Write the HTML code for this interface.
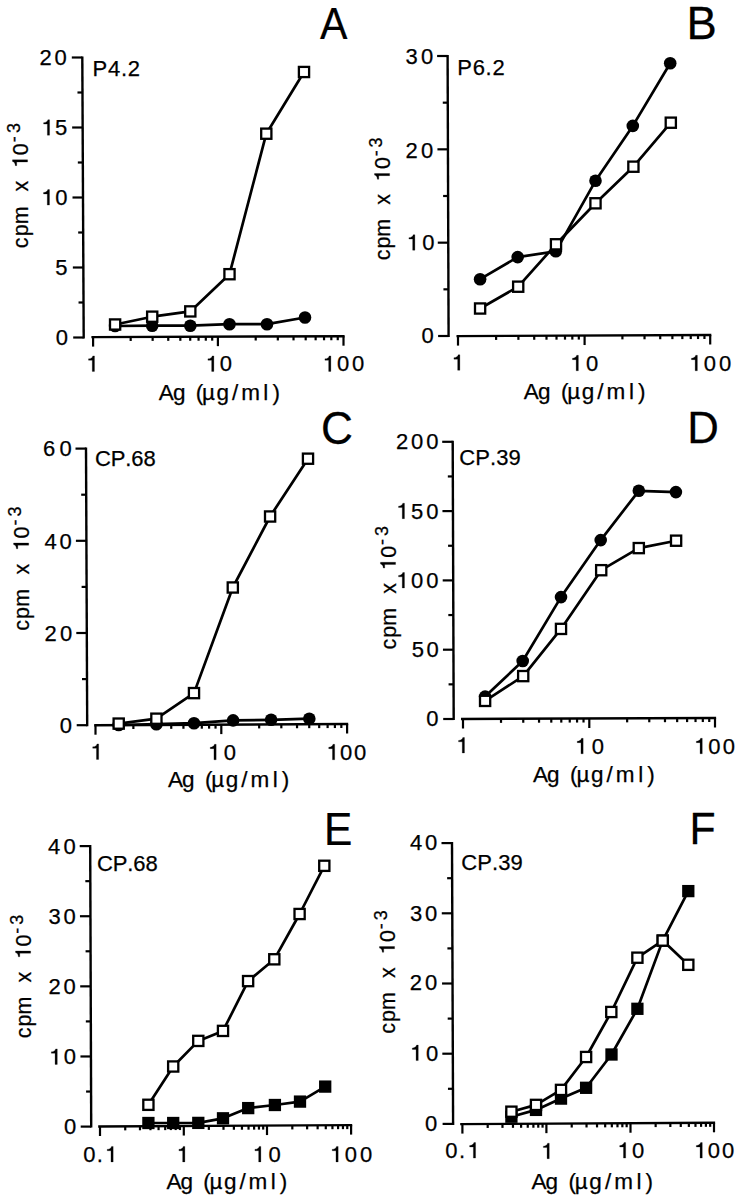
<!DOCTYPE html>
<html><head><meta charset="utf-8"><style>
html,body{margin:0;padding:0;background:#fff;}
svg{display:block;}
text{font-kerning:none;}
</style></head><body>
<svg width="742" height="1200" viewBox="0 0 742 1200" style="font-family:'Liberation Sans',sans-serif">
<rect width="742" height="1200" fill="#fff"/>
<g stroke="#000" fill="#000" font-family="Liberation Sans, sans-serif">
<g>
<line x1="82.30" y1="56.50" x2="83.70" y2="338.50" stroke-width="2.4" stroke-linecap="butt"/>
<line x1="73.20" y1="337.50" x2="83.70" y2="337.50" stroke-width="2.2" stroke-linecap="butt"/>
<line x1="72.85" y1="267.50" x2="83.35" y2="267.50" stroke-width="2.2" stroke-linecap="butt"/>
<line x1="72.50" y1="197.50" x2="83.00" y2="197.50" stroke-width="2.2" stroke-linecap="butt"/>
<line x1="72.15" y1="127.50" x2="82.65" y2="127.50" stroke-width="2.2" stroke-linecap="butt"/>
<line x1="71.80" y1="57.50" x2="82.30" y2="57.50" stroke-width="2.2" stroke-linecap="butt"/>
<line x1="78.53" y1="302.50" x2="83.53" y2="302.50" stroke-width="2.2" stroke-linecap="butt"/>
<line x1="78.17" y1="232.50" x2="83.17" y2="232.50" stroke-width="2.2" stroke-linecap="butt"/>
<line x1="77.83" y1="162.50" x2="82.83" y2="162.50" stroke-width="2.2" stroke-linecap="butt"/>
<line x1="77.47" y1="92.50" x2="82.47" y2="92.50" stroke-width="2.2" stroke-linecap="butt"/>
<line x1="91.40" y1="337.10" x2="344.60" y2="336.20" stroke-width="2.4" stroke-linecap="butt"/>
<line x1="93.10" y1="337.10" x2="93.10" y2="346.60" stroke-width="2.2" stroke-linecap="butt"/>
<line x1="130.67" y1="336.96" x2="130.67" y2="340.96" stroke-width="2.2" stroke-linecap="butt"/>
<line x1="152.64" y1="336.88" x2="152.64" y2="340.88" stroke-width="2.2" stroke-linecap="butt"/>
<line x1="168.24" y1="336.83" x2="168.24" y2="340.83" stroke-width="2.2" stroke-linecap="butt"/>
<line x1="180.33" y1="336.79" x2="180.33" y2="340.79" stroke-width="2.2" stroke-linecap="butt"/>
<line x1="190.21" y1="336.75" x2="190.21" y2="340.75" stroke-width="2.2" stroke-linecap="butt"/>
<line x1="198.57" y1="336.72" x2="198.57" y2="340.72" stroke-width="2.2" stroke-linecap="butt"/>
<line x1="205.81" y1="336.69" x2="205.81" y2="340.69" stroke-width="2.2" stroke-linecap="butt"/>
<line x1="212.19" y1="336.67" x2="212.19" y2="340.67" stroke-width="2.2" stroke-linecap="butt"/>
<line x1="217.90" y1="336.65" x2="217.90" y2="346.15" stroke-width="2.2" stroke-linecap="butt"/>
<line x1="255.71" y1="336.51" x2="255.71" y2="340.51" stroke-width="2.2" stroke-linecap="butt"/>
<line x1="277.83" y1="336.44" x2="277.83" y2="340.44" stroke-width="2.2" stroke-linecap="butt"/>
<line x1="293.52" y1="336.38" x2="293.52" y2="340.38" stroke-width="2.2" stroke-linecap="butt"/>
<line x1="305.69" y1="336.34" x2="305.69" y2="340.34" stroke-width="2.2" stroke-linecap="butt"/>
<line x1="315.64" y1="336.30" x2="315.64" y2="340.30" stroke-width="2.2" stroke-linecap="butt"/>
<line x1="324.04" y1="336.27" x2="324.04" y2="340.27" stroke-width="2.2" stroke-linecap="butt"/>
<line x1="331.33" y1="336.24" x2="331.33" y2="340.24" stroke-width="2.2" stroke-linecap="butt"/>
<line x1="337.75" y1="336.22" x2="337.75" y2="340.22" stroke-width="2.2" stroke-linecap="butt"/>
<line x1="343.50" y1="336.20" x2="343.50" y2="345.70" stroke-width="2.2" stroke-linecap="butt"/>
<path d="M115.10,326.00 L152.20,325.70 L190.30,325.70 L229.50,324.20 L267.00,324.20 L305.00,317.50" fill="none" stroke-width="2.7" stroke-linejoin="round"/>
<path d="M115.10,324.50 L152.20,316.70 L190.30,311.40 L229.50,274.20 L266.30,133.70 L304.00,72.00" fill="none" stroke-width="2.7" stroke-linejoin="round"/>
<circle cx="115.10" cy="326.00" r="6.3" fill="#000" stroke="none"/>
<circle cx="152.20" cy="325.70" r="6.3" fill="#000" stroke="none"/>
<circle cx="190.30" cy="325.70" r="6.3" fill="#000" stroke="none"/>
<circle cx="229.50" cy="324.20" r="6.3" fill="#000" stroke="none"/>
<circle cx="267.00" cy="324.20" r="6.3" fill="#000" stroke="none"/>
<circle cx="305.00" cy="317.50" r="6.3" fill="#000" stroke="none"/>
<rect x="110.00" y="319.40" width="10.2" height="10.2" fill="#fff" stroke-width="2.3"/>
<rect x="147.10" y="311.60" width="10.2" height="10.2" fill="#fff" stroke-width="2.3"/>
<rect x="185.20" y="306.30" width="10.2" height="10.2" fill="#fff" stroke-width="2.3"/>
<rect x="224.40" y="269.10" width="10.2" height="10.2" fill="#fff" stroke-width="2.3"/>
<rect x="261.20" y="128.60" width="10.2" height="10.2" fill="#fff" stroke-width="2.3"/>
<rect x="298.90" y="66.90" width="10.2" height="10.2" fill="#fff" stroke-width="2.3"/>
<text stroke="#000" stroke-width="0.25" stroke-linejoin="round" x="39.52 54.50" y="65.38 65.38" font-size="22.0">20</text>
<path d="M47.37,135.18 L49.56,135.18 L49.56,119.71 L47.91,119.71 C47.48,121.43 46.05,122.46 43.62,122.64 L43.62,124.07 L47.37,124.07Z" stroke-width="0.25" stroke-linejoin="round"/><text stroke="#000" stroke-width="0.25" stroke-linejoin="round" x="55.06" y="135.18" font-size="22.0">5</text>
<path d="M47.27,205.07 L49.47,205.07 L49.47,189.61 L47.81,189.61 C47.38,191.32 45.95,192.36 43.52,192.53 L43.52,193.96 L47.27,193.96Z" stroke-width="0.25" stroke-linejoin="round"/><text stroke="#000" stroke-width="0.25" stroke-linejoin="round" x="55.30" y="205.07" font-size="22.0">0</text>
<text stroke="#000" stroke-width="0.25" stroke-linejoin="round" x="55.24" y="275.18" font-size="22.0">5</text>
<text stroke="#000" stroke-width="0.25" stroke-linejoin="round" x="55.77" y="345.07" font-size="22.0">0</text>
<path d="M92.27,371.38 L94.47,371.38 L94.47,355.91 L92.82,355.91 C92.38,357.62 90.95,358.66 88.53,358.83 L88.53,360.26 L92.27,360.26Z" stroke-width="0.25" stroke-linejoin="round"/>
<path d="M211.66,371.38 L213.87,371.38 L213.87,355.91 L212.22,355.91 C211.78,357.62 210.34,358.66 207.93,358.83 L207.93,360.26 L211.66,360.26Z" stroke-width="0.25" stroke-linejoin="round"/><text stroke="#000" stroke-width="0.25" stroke-linejoin="round" x="219.70" y="371.38" font-size="22.0">0</text>
<path d="M328.67,371.38 L330.87,371.38 L330.87,355.91 L329.21,355.91 C328.77,357.62 327.34,358.66 324.93,358.83 L324.93,360.26 L328.67,360.26Z" stroke-width="0.25" stroke-linejoin="round"/><text stroke="#000" stroke-width="0.25" stroke-linejoin="round" x="337.03 352.00" y="371.38 371.38" font-size="22.0">00</text>
<text stroke="#000" stroke-width="0.25" stroke-linejoin="round" x="92.62 108.03 121.00 127.85" y="75.67 75.67 75.67 75.67" font-size="22.0">P4.2</text>
<text stroke="#000" stroke-width="0.25" stroke-linejoin="round" transform="translate(320.07,39.35) scale(0.9227,1)" x="0" y="0" font-size="44.62">A</text>
<text stroke="#000" stroke-width="0.25" stroke-linejoin="round" x="158.78 172.88 195.73 201.99 216.38 231.93 241.13 263.31 272.39" y="399.68 399.68 399.68 399.68 399.68 399.68 399.68 399.68 399.68" font-size="22.5">Ag(µg/ml)</text>
<g transform="translate(27.70,248.00) rotate(-90)"><text stroke="#000" stroke-width="0.25" stroke-linejoin="round" x="-0.29 11.73 23.88 56.44" y="-0.12 -0.12 -0.12 -0.12" font-size="21.5">cpmx</text><path d="M86.01,-0.12 L88.16,-0.12 L88.16,-15.24 L86.55,-15.24 C86.12,-13.56 84.72,-12.55 82.36,-12.38 L82.36,-10.98 L86.01,-10.98Z" stroke-width="0.25" stroke-linejoin="round"/><text stroke="#000" stroke-width="0.25" stroke-linejoin="round" x="92.81" y="-0.12" font-size="21.5">0</text><text stroke="#000" stroke-width="0.25" stroke-linejoin="round" x="105.84 114.95" y="-7.62 -7.62" font-size="18.0">-3</text></g>
<line x1="447.60" y1="55.00" x2="448.60" y2="337.00" stroke-width="2.4" stroke-linecap="butt"/>
<line x1="438.10" y1="336.00" x2="448.60" y2="336.00" stroke-width="2.2" stroke-linecap="butt"/>
<line x1="437.77" y1="242.67" x2="448.27" y2="242.67" stroke-width="2.2" stroke-linecap="butt"/>
<line x1="437.43" y1="149.33" x2="447.93" y2="149.33" stroke-width="2.2" stroke-linecap="butt"/>
<line x1="437.10" y1="56.00" x2="447.60" y2="56.00" stroke-width="2.2" stroke-linecap="butt"/>
<line x1="443.43" y1="289.33" x2="448.43" y2="289.33" stroke-width="2.2" stroke-linecap="butt"/>
<line x1="443.10" y1="196.00" x2="448.10" y2="196.00" stroke-width="2.2" stroke-linecap="butt"/>
<line x1="442.77" y1="102.67" x2="447.77" y2="102.67" stroke-width="2.2" stroke-linecap="butt"/>
<line x1="456.50" y1="336.10" x2="711.30" y2="335.00" stroke-width="2.4" stroke-linecap="butt"/>
<line x1="458.00" y1="336.10" x2="458.00" y2="345.60" stroke-width="2.2" stroke-linecap="butt"/>
<line x1="496.11" y1="335.93" x2="496.11" y2="339.93" stroke-width="2.2" stroke-linecap="butt"/>
<line x1="518.40" y1="335.84" x2="518.40" y2="339.84" stroke-width="2.2" stroke-linecap="butt"/>
<line x1="534.22" y1="335.77" x2="534.22" y2="339.77" stroke-width="2.2" stroke-linecap="butt"/>
<line x1="546.49" y1="335.71" x2="546.49" y2="339.71" stroke-width="2.2" stroke-linecap="butt"/>
<line x1="556.51" y1="335.67" x2="556.51" y2="339.67" stroke-width="2.2" stroke-linecap="butt"/>
<line x1="564.99" y1="335.63" x2="564.99" y2="339.63" stroke-width="2.2" stroke-linecap="butt"/>
<line x1="572.33" y1="335.60" x2="572.33" y2="339.60" stroke-width="2.2" stroke-linecap="butt"/>
<line x1="578.81" y1="335.57" x2="578.81" y2="339.57" stroke-width="2.2" stroke-linecap="butt"/>
<line x1="584.60" y1="335.55" x2="584.60" y2="345.05" stroke-width="2.2" stroke-linecap="butt"/>
<line x1="622.41" y1="335.38" x2="622.41" y2="339.38" stroke-width="2.2" stroke-linecap="butt"/>
<line x1="644.53" y1="335.29" x2="644.53" y2="339.29" stroke-width="2.2" stroke-linecap="butt"/>
<line x1="660.22" y1="335.22" x2="660.22" y2="339.22" stroke-width="2.2" stroke-linecap="butt"/>
<line x1="672.39" y1="335.16" x2="672.39" y2="339.16" stroke-width="2.2" stroke-linecap="butt"/>
<line x1="682.34" y1="335.12" x2="682.34" y2="339.12" stroke-width="2.2" stroke-linecap="butt"/>
<line x1="690.74" y1="335.08" x2="690.74" y2="339.08" stroke-width="2.2" stroke-linecap="butt"/>
<line x1="698.03" y1="335.05" x2="698.03" y2="339.05" stroke-width="2.2" stroke-linecap="butt"/>
<line x1="704.45" y1="335.03" x2="704.45" y2="339.03" stroke-width="2.2" stroke-linecap="butt"/>
<line x1="710.20" y1="335.00" x2="710.20" y2="344.50" stroke-width="2.2" stroke-linecap="butt"/>
<path d="M480.10,279.20 L517.70,257.10 L555.80,251.30 L595.50,180.80 L632.80,125.90 L670.20,63.20" fill="none" stroke-width="2.7" stroke-linejoin="round"/>
<path d="M480.10,308.50 L518.20,286.70 L556.00,244.30 L595.50,203.30 L633.40,166.70 L670.80,122.70" fill="none" stroke-width="2.7" stroke-linejoin="round"/>
<circle cx="480.10" cy="279.20" r="6.3" fill="#000" stroke="none"/>
<circle cx="517.70" cy="257.10" r="6.3" fill="#000" stroke="none"/>
<circle cx="555.80" cy="251.30" r="6.3" fill="#000" stroke="none"/>
<circle cx="595.50" cy="180.80" r="6.3" fill="#000" stroke="none"/>
<circle cx="632.80" cy="125.90" r="6.3" fill="#000" stroke="none"/>
<circle cx="670.20" cy="63.20" r="6.3" fill="#000" stroke="none"/>
<rect x="475.00" y="303.40" width="10.2" height="10.2" fill="#fff" stroke-width="2.3"/>
<rect x="513.10" y="281.60" width="10.2" height="10.2" fill="#fff" stroke-width="2.3"/>
<rect x="550.90" y="239.20" width="10.2" height="10.2" fill="#fff" stroke-width="2.3"/>
<rect x="590.40" y="198.20" width="10.2" height="10.2" fill="#fff" stroke-width="2.3"/>
<rect x="628.30" y="161.60" width="10.2" height="10.2" fill="#fff" stroke-width="2.3"/>
<rect x="665.70" y="117.60" width="10.2" height="10.2" fill="#fff" stroke-width="2.3"/>
<text stroke="#000" stroke-width="0.25" stroke-linejoin="round" x="405.49 420.90" y="63.88 63.88" font-size="22.0">30</text>
<text stroke="#000" stroke-width="0.25" stroke-linejoin="round" x="405.52 420.90" y="157.68 157.68" font-size="22.0">20</text>
<path d="M412.67,250.18 L414.87,250.18 L414.87,234.71 L413.21,234.71 C412.77,236.43 411.34,237.46 408.93,237.64 L408.93,239.06 L412.67,239.06Z" stroke-width="0.25" stroke-linejoin="round"/><text stroke="#000" stroke-width="0.25" stroke-linejoin="round" x="422.20" y="250.18" font-size="22.0">0</text>
<text stroke="#000" stroke-width="0.25" stroke-linejoin="round" x="421.47" y="343.07" font-size="22.0">0</text>
<path d="M457.67,370.27 L459.87,370.27 L459.87,354.81 L458.21,354.81 C457.77,356.52 456.34,357.56 453.93,357.73 L453.93,359.16 L457.67,359.16Z" stroke-width="0.25" stroke-linejoin="round"/>
<path d="M576.16,370.77 L578.36,370.77 L578.36,355.31 L576.71,355.31 C576.27,357.02 574.84,358.06 572.42,358.23 L572.42,359.66 L576.16,359.66Z" stroke-width="0.25" stroke-linejoin="round"/><text stroke="#000" stroke-width="0.25" stroke-linejoin="round" x="585.90" y="370.77" font-size="22.0">0</text>
<path d="M695.16,370.77 L697.36,370.77 L697.36,355.31 L695.71,355.31 C695.27,357.02 693.84,358.06 691.42,358.23 L691.42,359.66 L695.16,359.66Z" stroke-width="0.25" stroke-linejoin="round"/><text stroke="#000" stroke-width="0.25" stroke-linejoin="round" x="703.73 718.90" y="370.77 370.77" font-size="22.0">00</text>
<text stroke="#000" stroke-width="0.25" stroke-linejoin="round" x="457.22 472.63 485.60 492.45" y="74.67 74.67 74.67 74.67" font-size="22.0">P6.2</text>
<text stroke="#000" stroke-width="0.25" stroke-linejoin="round" transform="translate(686.52,38.75) scale(0.9868,1)" x="0" y="0" font-size="46.08">B</text>
<text stroke="#000" stroke-width="0.25" stroke-linejoin="round" x="523.68 537.88 560.89 567.19 581.68 597.32 606.60 628.93 638.07" y="399.07 399.07 399.07 399.07 399.07 399.07 399.07 399.07 399.07" font-size="22.5">Ag(µg/ml)</text>
<g transform="translate(389.75,260.00) rotate(-90)"><text stroke="#000" stroke-width="0.25" stroke-linejoin="round" x="-0.29 11.48 23.38 55.30" y="-0.12 -0.12 -0.12 -0.12" font-size="21.5">cpmx</text><path d="M84.35,-0.12 L86.50,-0.12 L86.50,-15.24 L84.89,-15.24 C84.46,-13.56 83.06,-12.55 80.70,-12.38 L80.70,-10.98 L84.35,-10.98Z" stroke-width="0.25" stroke-linejoin="round"/><text stroke="#000" stroke-width="0.25" stroke-linejoin="round" x="90.92" y="-0.12" font-size="21.5">0</text><text stroke="#000" stroke-width="0.25" stroke-linejoin="round" x="103.68 112.61" y="-7.62 -7.62" font-size="18.0">-3</text></g>
<line x1="86.00" y1="447.60" x2="87.20" y2="726.20" stroke-width="2.4" stroke-linecap="butt"/>
<line x1="76.70" y1="725.20" x2="87.20" y2="725.20" stroke-width="2.2" stroke-linecap="butt"/>
<line x1="76.30" y1="633.00" x2="86.80" y2="633.00" stroke-width="2.2" stroke-linecap="butt"/>
<line x1="75.90" y1="540.80" x2="86.40" y2="540.80" stroke-width="2.2" stroke-linecap="butt"/>
<line x1="75.50" y1="448.60" x2="86.00" y2="448.60" stroke-width="2.2" stroke-linecap="butt"/>
<line x1="82.00" y1="679.10" x2="87.00" y2="679.10" stroke-width="2.2" stroke-linecap="butt"/>
<line x1="81.60" y1="586.90" x2="86.60" y2="586.90" stroke-width="2.2" stroke-linecap="butt"/>
<line x1="81.20" y1="494.70" x2="86.20" y2="494.70" stroke-width="2.2" stroke-linecap="butt"/>
<line x1="94.20" y1="725.20" x2="348.20" y2="724.00" stroke-width="2.4" stroke-linecap="butt"/>
<line x1="95.50" y1="725.20" x2="95.50" y2="734.70" stroke-width="2.2" stroke-linecap="butt"/>
<line x1="133.37" y1="725.02" x2="133.37" y2="729.02" stroke-width="2.2" stroke-linecap="butt"/>
<line x1="155.52" y1="724.91" x2="155.52" y2="728.91" stroke-width="2.2" stroke-linecap="butt"/>
<line x1="171.24" y1="724.84" x2="171.24" y2="728.84" stroke-width="2.2" stroke-linecap="butt"/>
<line x1="183.43" y1="724.78" x2="183.43" y2="728.78" stroke-width="2.2" stroke-linecap="butt"/>
<line x1="193.39" y1="724.73" x2="193.39" y2="728.73" stroke-width="2.2" stroke-linecap="butt"/>
<line x1="201.81" y1="724.69" x2="201.81" y2="728.69" stroke-width="2.2" stroke-linecap="butt"/>
<line x1="209.11" y1="724.66" x2="209.11" y2="728.66" stroke-width="2.2" stroke-linecap="butt"/>
<line x1="215.54" y1="724.63" x2="215.54" y2="728.63" stroke-width="2.2" stroke-linecap="butt"/>
<line x1="221.30" y1="724.60" x2="221.30" y2="734.10" stroke-width="2.2" stroke-linecap="butt"/>
<line x1="259.17" y1="724.42" x2="259.17" y2="728.42" stroke-width="2.2" stroke-linecap="butt"/>
<line x1="281.32" y1="724.31" x2="281.32" y2="728.31" stroke-width="2.2" stroke-linecap="butt"/>
<line x1="297.04" y1="724.24" x2="297.04" y2="728.24" stroke-width="2.2" stroke-linecap="butt"/>
<line x1="309.23" y1="724.18" x2="309.23" y2="728.18" stroke-width="2.2" stroke-linecap="butt"/>
<line x1="319.19" y1="724.13" x2="319.19" y2="728.13" stroke-width="2.2" stroke-linecap="butt"/>
<line x1="327.61" y1="724.09" x2="327.61" y2="728.09" stroke-width="2.2" stroke-linecap="butt"/>
<line x1="334.91" y1="724.06" x2="334.91" y2="728.06" stroke-width="2.2" stroke-linecap="butt"/>
<line x1="341.34" y1="724.03" x2="341.34" y2="728.03" stroke-width="2.2" stroke-linecap="butt"/>
<line x1="347.10" y1="724.00" x2="347.10" y2="733.50" stroke-width="2.2" stroke-linecap="butt"/>
<path d="M118.70,725.00 L156.40,724.20 L194.00,723.20 L233.10,720.40 L271.10,719.80 L309.30,718.70" fill="none" stroke-width="2.7" stroke-linejoin="round"/>
<path d="M118.70,723.60 L156.40,718.70 L194.00,693.10 L232.80,587.50 L270.10,516.50 L308.00,458.70" fill="none" stroke-width="2.7" stroke-linejoin="round"/>
<circle cx="118.70" cy="725.00" r="6.3" fill="#000" stroke="none"/>
<circle cx="156.40" cy="724.20" r="6.3" fill="#000" stroke="none"/>
<circle cx="194.00" cy="723.20" r="6.3" fill="#000" stroke="none"/>
<circle cx="233.10" cy="720.40" r="6.3" fill="#000" stroke="none"/>
<circle cx="271.10" cy="719.80" r="6.3" fill="#000" stroke="none"/>
<circle cx="309.30" cy="718.70" r="6.3" fill="#000" stroke="none"/>
<rect x="113.60" y="718.50" width="10.2" height="10.2" fill="#fff" stroke-width="2.3"/>
<rect x="151.30" y="713.60" width="10.2" height="10.2" fill="#fff" stroke-width="2.3"/>
<rect x="188.90" y="688.00" width="10.2" height="10.2" fill="#fff" stroke-width="2.3"/>
<rect x="227.70" y="582.40" width="10.2" height="10.2" fill="#fff" stroke-width="2.3"/>
<rect x="265.00" y="511.40" width="10.2" height="10.2" fill="#fff" stroke-width="2.3"/>
<rect x="302.90" y="453.60" width="10.2" height="10.2" fill="#fff" stroke-width="2.3"/>
<text stroke="#000" stroke-width="0.25" stroke-linejoin="round" x="43.11 59.40" y="456.48 456.48" font-size="22.0">60</text>
<text stroke="#000" stroke-width="0.25" stroke-linejoin="round" x="44.42 59.40" y="548.67 548.67" font-size="22.0">40</text>
<text stroke="#000" stroke-width="0.25" stroke-linejoin="round" x="44.52 60.10" y="641.48 641.48" font-size="22.0">20</text>
<text stroke="#000" stroke-width="0.25" stroke-linejoin="round" x="59.77" y="732.98" font-size="22.0">0</text>
<path d="M96.46,759.38 L98.66,759.38 L98.66,743.91 L97.02,743.91 C96.57,745.62 95.14,746.66 92.72,746.84 L92.72,748.26 L96.46,748.26Z" stroke-width="0.25" stroke-linejoin="round"/>
<path d="M213.96,759.77 L216.16,759.77 L216.16,744.31 L214.51,744.31 C214.07,746.02 212.64,747.06 210.22,747.24 L210.22,748.66 L213.96,748.66Z" stroke-width="0.25" stroke-linejoin="round"/><text stroke="#000" stroke-width="0.25" stroke-linejoin="round" x="223.80" y="759.77" font-size="22.0">0</text>
<path d="M332.47,759.77 L334.67,759.77 L334.67,744.31 L333.01,744.31 C332.57,746.02 331.14,747.06 328.73,747.24 L328.73,748.66 L332.47,748.66Z" stroke-width="0.25" stroke-linejoin="round"/><text stroke="#000" stroke-width="0.25" stroke-linejoin="round" x="339.93 354.00" y="759.77 759.77" font-size="22.0">00</text>
<text stroke="#000" stroke-width="0.25" stroke-linejoin="round" x="94.91 110.72 125.31 131.34 143.50" y="466.07 466.07 466.07 466.07 466.07" font-size="22.0">CP.68</text>
<text stroke="#000" stroke-width="0.25" stroke-linejoin="round" transform="translate(321.00,444.39) scale(0.9661,1)" x="0" y="0" font-size="45.76">C</text>
<text stroke="#000" stroke-width="0.25" stroke-linejoin="round" x="167.98 182.11 204.99 211.26 225.68 241.25 250.47 272.69 281.79" y="786.58 786.58 786.58 786.58 786.58 786.58 786.58 786.58 786.58" font-size="22.5">Ag(µg/ml)</text>
<g transform="translate(28.80,630.50) rotate(-90)"><text stroke="#000" stroke-width="0.25" stroke-linejoin="round" x="-0.29 11.63 23.68 55.98" y="-0.12 -0.12 -0.12 -0.12" font-size="21.5">cpmx</text><path d="M85.35,-0.12 L87.50,-0.12 L87.50,-15.24 L85.89,-15.24 C85.46,-13.56 84.06,-12.55 81.69,-12.38 L81.69,-10.98 L85.35,-10.98Z" stroke-width="0.25" stroke-linejoin="round"/><text stroke="#000" stroke-width="0.25" stroke-linejoin="round" x="92.05" y="-0.12" font-size="21.5">0</text><text stroke="#000" stroke-width="0.25" stroke-linejoin="round" x="104.98 114.01" y="-7.62 -7.62" font-size="18.0">-3</text></g>
<line x1="452.70" y1="440.80" x2="453.70" y2="720.00" stroke-width="2.4" stroke-linecap="butt"/>
<line x1="443.20" y1="719.00" x2="453.70" y2="719.00" stroke-width="2.2" stroke-linecap="butt"/>
<line x1="442.95" y1="649.70" x2="453.45" y2="649.70" stroke-width="2.2" stroke-linecap="butt"/>
<line x1="442.70" y1="580.40" x2="453.20" y2="580.40" stroke-width="2.2" stroke-linecap="butt"/>
<line x1="442.45" y1="511.10" x2="452.95" y2="511.10" stroke-width="2.2" stroke-linecap="butt"/>
<line x1="442.20" y1="441.80" x2="452.70" y2="441.80" stroke-width="2.2" stroke-linecap="butt"/>
<line x1="448.57" y1="684.35" x2="453.57" y2="684.35" stroke-width="2.2" stroke-linecap="butt"/>
<line x1="448.32" y1="615.05" x2="453.32" y2="615.05" stroke-width="2.2" stroke-linecap="butt"/>
<line x1="448.07" y1="545.75" x2="453.07" y2="545.75" stroke-width="2.2" stroke-linecap="butt"/>
<line x1="447.82" y1="476.45" x2="452.82" y2="476.45" stroke-width="2.2" stroke-linecap="butt"/>
<line x1="461.00" y1="719.00" x2="716.10" y2="718.00" stroke-width="2.4" stroke-linecap="butt"/>
<line x1="463.00" y1="719.00" x2="463.00" y2="728.50" stroke-width="2.2" stroke-linecap="butt"/>
<line x1="501.02" y1="718.85" x2="501.02" y2="722.85" stroke-width="2.2" stroke-linecap="butt"/>
<line x1="523.26" y1="718.76" x2="523.26" y2="722.76" stroke-width="2.2" stroke-linecap="butt"/>
<line x1="539.04" y1="718.70" x2="539.04" y2="722.70" stroke-width="2.2" stroke-linecap="butt"/>
<line x1="551.28" y1="718.65" x2="551.28" y2="722.65" stroke-width="2.2" stroke-linecap="butt"/>
<line x1="561.28" y1="718.61" x2="561.28" y2="722.61" stroke-width="2.2" stroke-linecap="butt"/>
<line x1="569.74" y1="718.57" x2="569.74" y2="722.57" stroke-width="2.2" stroke-linecap="butt"/>
<line x1="577.06" y1="718.55" x2="577.06" y2="722.55" stroke-width="2.2" stroke-linecap="butt"/>
<line x1="583.52" y1="718.52" x2="583.52" y2="722.52" stroke-width="2.2" stroke-linecap="butt"/>
<line x1="589.30" y1="718.50" x2="589.30" y2="728.00" stroke-width="2.2" stroke-linecap="butt"/>
<line x1="627.14" y1="718.35" x2="627.14" y2="722.35" stroke-width="2.2" stroke-linecap="butt"/>
<line x1="649.27" y1="718.26" x2="649.27" y2="722.26" stroke-width="2.2" stroke-linecap="butt"/>
<line x1="664.98" y1="718.20" x2="664.98" y2="722.20" stroke-width="2.2" stroke-linecap="butt"/>
<line x1="677.16" y1="718.15" x2="677.16" y2="722.15" stroke-width="2.2" stroke-linecap="butt"/>
<line x1="687.11" y1="718.11" x2="687.11" y2="722.11" stroke-width="2.2" stroke-linecap="butt"/>
<line x1="695.53" y1="718.08" x2="695.53" y2="722.08" stroke-width="2.2" stroke-linecap="butt"/>
<line x1="702.82" y1="718.05" x2="702.82" y2="722.05" stroke-width="2.2" stroke-linecap="butt"/>
<line x1="709.25" y1="718.02" x2="709.25" y2="722.02" stroke-width="2.2" stroke-linecap="butt"/>
<line x1="715.00" y1="718.00" x2="715.00" y2="727.50" stroke-width="2.2" stroke-linecap="butt"/>
<path d="M485.10,696.60 L522.70,661.00 L561.00,597.10 L600.70,540.10 L638.80,490.80 L675.90,492.10" fill="none" stroke-width="2.7" stroke-linejoin="round"/>
<path d="M485.10,700.90 L523.20,676.10 L561.00,628.90 L601.20,570.20 L638.80,548.10 L676.10,540.70" fill="none" stroke-width="2.7" stroke-linejoin="round"/>
<circle cx="485.10" cy="696.60" r="6.3" fill="#000" stroke="none"/>
<circle cx="522.70" cy="661.00" r="6.3" fill="#000" stroke="none"/>
<circle cx="561.00" cy="597.10" r="6.3" fill="#000" stroke="none"/>
<circle cx="600.70" cy="540.10" r="6.3" fill="#000" stroke="none"/>
<circle cx="638.80" cy="490.80" r="6.3" fill="#000" stroke="none"/>
<circle cx="675.90" cy="492.10" r="6.3" fill="#000" stroke="none"/>
<rect x="480.00" y="695.80" width="10.2" height="10.2" fill="#fff" stroke-width="2.3"/>
<rect x="518.10" y="671.00" width="10.2" height="10.2" fill="#fff" stroke-width="2.3"/>
<rect x="555.90" y="623.80" width="10.2" height="10.2" fill="#fff" stroke-width="2.3"/>
<rect x="596.10" y="565.10" width="10.2" height="10.2" fill="#fff" stroke-width="2.3"/>
<rect x="633.70" y="543.00" width="10.2" height="10.2" fill="#fff" stroke-width="2.3"/>
<rect x="671.00" y="535.60" width="10.2" height="10.2" fill="#fff" stroke-width="2.3"/>
<text stroke="#000" stroke-width="0.25" stroke-linejoin="round" x="395.92 411.11 426.30" y="449.38 449.38 449.38" font-size="22.0">200</text>
<path d="M402.26,518.67 L404.46,518.67 L404.46,503.21 L402.81,503.21 C402.37,504.92 400.94,505.96 398.52,506.13 L398.52,507.56 L402.26,507.56Z" stroke-width="0.25" stroke-linejoin="round"/><text stroke="#000" stroke-width="0.25" stroke-linejoin="round" x="410.98 426.30" y="518.67 518.67" font-size="22.0">50</text>
<path d="M402.26,587.98 L404.46,587.98 L404.46,572.51 L402.81,572.51 C402.37,574.23 400.94,575.26 398.52,575.44 L398.52,576.87 L402.26,576.87Z" stroke-width="0.25" stroke-linejoin="round"/><text stroke="#000" stroke-width="0.25" stroke-linejoin="round" x="410.98 426.30" y="587.98 587.98" font-size="22.0">00</text>
<text stroke="#000" stroke-width="0.25" stroke-linejoin="round" x="411.84 426.60" y="657.27 657.27" font-size="22.0">50</text>
<text stroke="#000" stroke-width="0.25" stroke-linejoin="round" x="426.17" y="726.48" font-size="22.0">0</text>
<path d="M462.26,752.98 L464.46,752.98 L464.46,737.51 L462.81,737.51 C462.37,739.23 460.94,740.26 458.52,740.44 L458.52,741.87 L462.26,741.87Z" stroke-width="0.25" stroke-linejoin="round"/>
<path d="M580.97,753.77 L583.16,753.77 L583.16,738.31 L581.51,738.31 C581.08,740.02 579.64,741.06 577.23,741.24 L577.23,742.66 L580.97,742.66Z" stroke-width="0.25" stroke-linejoin="round"/><text stroke="#000" stroke-width="0.25" stroke-linejoin="round" x="591.70" y="753.77" font-size="22.0">0</text>
<path d="M700.07,753.77 L702.26,753.77 L702.26,738.31 L700.62,738.31 C700.18,740.02 698.75,741.06 696.33,741.24 L696.33,742.66 L700.07,742.66Z" stroke-width="0.25" stroke-linejoin="round"/><text stroke="#000" stroke-width="0.25" stroke-linejoin="round" x="708.13 722.80" y="753.77 753.77" font-size="22.0">00</text>
<text stroke="#000" stroke-width="0.25" stroke-linejoin="round" x="459.21 475.21 490.00 496.23 508.58" y="464.68 464.68 464.68 464.68 464.68" font-size="22.0">CP.39</text>
<text stroke="#000" stroke-width="0.25" stroke-linejoin="round" transform="translate(687.26,442.95) scale(0.9736,1)" x="0" y="0" font-size="44.91">D</text>
<text stroke="#000" stroke-width="0.25" stroke-linejoin="round" x="532.88 547.10 570.12 576.43 590.93 606.58 615.87 638.22 647.36" y="782.38 782.38 782.38 782.38 782.38 782.38 782.38 782.38 782.38" font-size="22.5">Ag(µg/ml)</text>
<g transform="translate(395.70,649.30) rotate(-90)"><text stroke="#000" stroke-width="0.25" stroke-linejoin="round" x="-0.29 11.56 23.54 55.66" y="-0.12 -0.12 -0.12 -0.12" font-size="21.5">cpmx</text><path d="M84.88,-0.12 L87.03,-0.12 L87.03,-15.24 L85.42,-15.24 C84.99,-13.56 83.59,-12.55 81.23,-12.38 L81.23,-10.98 L84.88,-10.98Z" stroke-width="0.25" stroke-linejoin="round"/><text stroke="#000" stroke-width="0.25" stroke-linejoin="round" x="91.52" y="-0.12" font-size="21.5">0</text><text stroke="#000" stroke-width="0.25" stroke-linejoin="round" x="104.37 113.36" y="-7.62 -7.62" font-size="18.0">-3</text></g>
<line x1="90.20" y1="845.10" x2="91.20" y2="1127.60" stroke-width="2.4" stroke-linecap="butt"/>
<line x1="80.70" y1="1126.60" x2="91.20" y2="1126.60" stroke-width="2.2" stroke-linecap="butt"/>
<line x1="80.45" y1="1056.47" x2="90.95" y2="1056.47" stroke-width="2.2" stroke-linecap="butt"/>
<line x1="80.20" y1="986.35" x2="90.70" y2="986.35" stroke-width="2.2" stroke-linecap="butt"/>
<line x1="79.95" y1="916.23" x2="90.45" y2="916.23" stroke-width="2.2" stroke-linecap="butt"/>
<line x1="79.70" y1="846.10" x2="90.20" y2="846.10" stroke-width="2.2" stroke-linecap="butt"/>
<line x1="86.08" y1="1091.54" x2="91.08" y2="1091.54" stroke-width="2.2" stroke-linecap="butt"/>
<line x1="85.83" y1="1021.41" x2="90.83" y2="1021.41" stroke-width="2.2" stroke-linecap="butt"/>
<line x1="85.58" y1="951.29" x2="90.58" y2="951.29" stroke-width="2.2" stroke-linecap="butt"/>
<line x1="85.33" y1="881.16" x2="90.33" y2="881.16" stroke-width="2.2" stroke-linecap="butt"/>
<line x1="98.20" y1="1126.50" x2="352.20" y2="1125.10" stroke-width="2.4" stroke-linecap="butt"/>
<line x1="100.00" y1="1126.50" x2="100.00" y2="1136.00" stroke-width="2.2" stroke-linecap="butt"/>
<line x1="125.23" y1="1126.36" x2="125.23" y2="1130.36" stroke-width="2.2" stroke-linecap="butt"/>
<line x1="139.98" y1="1126.27" x2="139.98" y2="1130.27" stroke-width="2.2" stroke-linecap="butt"/>
<line x1="150.45" y1="1126.22" x2="150.45" y2="1130.22" stroke-width="2.2" stroke-linecap="butt"/>
<line x1="158.57" y1="1126.17" x2="158.57" y2="1130.17" stroke-width="2.2" stroke-linecap="butt"/>
<line x1="165.21" y1="1126.13" x2="165.21" y2="1130.13" stroke-width="2.2" stroke-linecap="butt"/>
<line x1="170.82" y1="1126.10" x2="170.82" y2="1130.10" stroke-width="2.2" stroke-linecap="butt"/>
<line x1="175.68" y1="1126.08" x2="175.68" y2="1130.08" stroke-width="2.2" stroke-linecap="butt"/>
<line x1="179.97" y1="1126.05" x2="179.97" y2="1130.05" stroke-width="2.2" stroke-linecap="butt"/>
<line x1="183.80" y1="1126.03" x2="183.80" y2="1135.53" stroke-width="2.2" stroke-linecap="butt"/>
<line x1="208.85" y1="1125.89" x2="208.85" y2="1129.89" stroke-width="2.2" stroke-linecap="butt"/>
<line x1="223.50" y1="1125.81" x2="223.50" y2="1129.81" stroke-width="2.2" stroke-linecap="butt"/>
<line x1="233.89" y1="1125.75" x2="233.89" y2="1129.75" stroke-width="2.2" stroke-linecap="butt"/>
<line x1="241.95" y1="1125.71" x2="241.95" y2="1129.71" stroke-width="2.2" stroke-linecap="butt"/>
<line x1="248.54" y1="1125.67" x2="248.54" y2="1129.67" stroke-width="2.2" stroke-linecap="butt"/>
<line x1="254.11" y1="1125.64" x2="254.11" y2="1129.64" stroke-width="2.2" stroke-linecap="butt"/>
<line x1="258.94" y1="1125.61" x2="258.94" y2="1129.61" stroke-width="2.2" stroke-linecap="butt"/>
<line x1="263.19" y1="1125.59" x2="263.19" y2="1129.59" stroke-width="2.2" stroke-linecap="butt"/>
<line x1="267.00" y1="1125.57" x2="267.00" y2="1135.07" stroke-width="2.2" stroke-linecap="butt"/>
<line x1="292.32" y1="1125.43" x2="292.32" y2="1129.43" stroke-width="2.2" stroke-linecap="butt"/>
<line x1="307.13" y1="1125.34" x2="307.13" y2="1129.34" stroke-width="2.2" stroke-linecap="butt"/>
<line x1="317.63" y1="1125.29" x2="317.63" y2="1129.29" stroke-width="2.2" stroke-linecap="butt"/>
<line x1="325.78" y1="1125.24" x2="325.78" y2="1129.24" stroke-width="2.2" stroke-linecap="butt"/>
<line x1="332.44" y1="1125.20" x2="332.44" y2="1129.20" stroke-width="2.2" stroke-linecap="butt"/>
<line x1="338.07" y1="1125.17" x2="338.07" y2="1129.17" stroke-width="2.2" stroke-linecap="butt"/>
<line x1="342.95" y1="1125.15" x2="342.95" y2="1129.15" stroke-width="2.2" stroke-linecap="butt"/>
<line x1="347.25" y1="1125.12" x2="347.25" y2="1129.12" stroke-width="2.2" stroke-linecap="butt"/>
<line x1="351.10" y1="1125.10" x2="351.10" y2="1134.60" stroke-width="2.2" stroke-linecap="butt"/>
<path d="M148.40,1123.00 L173.20,1123.00 L198.30,1122.90 L223.00,1118.30 L248.20,1108.10 L274.90,1105.00 L300.00,1101.60 L325.20,1086.60" fill="none" stroke-width="2.7" stroke-linejoin="round"/>
<path d="M148.40,1104.80 L173.20,1066.50 L198.30,1040.90 L223.00,1030.90 L248.10,981.10 L274.30,959.30 L299.60,914.00 L324.30,865.80" fill="none" stroke-width="2.7" stroke-linejoin="round"/>
<rect x="142.25" y="1116.85" width="12.3" height="12.3" fill="#000" stroke="none"/>
<rect x="167.05" y="1116.85" width="12.3" height="12.3" fill="#000" stroke="none"/>
<rect x="192.15" y="1116.75" width="12.3" height="12.3" fill="#000" stroke="none"/>
<rect x="216.85" y="1112.15" width="12.3" height="12.3" fill="#000" stroke="none"/>
<rect x="242.05" y="1101.95" width="12.3" height="12.3" fill="#000" stroke="none"/>
<rect x="268.75" y="1098.85" width="12.3" height="12.3" fill="#000" stroke="none"/>
<rect x="293.85" y="1095.45" width="12.3" height="12.3" fill="#000" stroke="none"/>
<rect x="319.05" y="1080.45" width="12.3" height="12.3" fill="#000" stroke="none"/>
<rect x="143.30" y="1099.70" width="10.2" height="10.2" fill="#fff" stroke-width="2.3"/>
<rect x="168.10" y="1061.40" width="10.2" height="10.2" fill="#fff" stroke-width="2.3"/>
<rect x="193.20" y="1035.80" width="10.2" height="10.2" fill="#fff" stroke-width="2.3"/>
<rect x="217.90" y="1025.80" width="10.2" height="10.2" fill="#fff" stroke-width="2.3"/>
<rect x="243.00" y="976.00" width="10.2" height="10.2" fill="#fff" stroke-width="2.3"/>
<rect x="269.20" y="954.20" width="10.2" height="10.2" fill="#fff" stroke-width="2.3"/>
<rect x="294.50" y="908.90" width="10.2" height="10.2" fill="#fff" stroke-width="2.3"/>
<rect x="319.20" y="860.70" width="10.2" height="10.2" fill="#fff" stroke-width="2.3"/>
<text stroke="#000" stroke-width="0.25" stroke-linejoin="round" x="48.02 63.40" y="853.98 853.98" font-size="22.0">40</text>
<text stroke="#000" stroke-width="0.25" stroke-linejoin="round" x="48.39 63.40" y="923.67 923.67" font-size="22.0">30</text>
<text stroke="#000" stroke-width="0.25" stroke-linejoin="round" x="48.52 63.50" y="993.88 993.88" font-size="22.0">20</text>
<path d="M55.07,1064.38 L57.27,1064.38 L57.27,1048.91 L55.62,1048.91 C55.18,1050.62 53.75,1051.66 51.33,1051.84 L51.33,1053.27 L55.07,1053.27Z" stroke-width="0.25" stroke-linejoin="round"/><text stroke="#000" stroke-width="0.25" stroke-linejoin="round" x="63.70" y="1064.38" font-size="22.0">0</text>
<text stroke="#000" stroke-width="0.25" stroke-linejoin="round" x="64.07" y="1134.38" font-size="22.0">0</text>
<text stroke="#000" stroke-width="0.25" stroke-linejoin="round" x="83.17 96.83" y="1161.88 1161.88" font-size="22.0">0.</text><path d="M110.97,1161.88 L113.17,1161.88 L113.17,1146.41 L111.53,1146.41 C111.08,1148.12 109.66,1149.16 107.23,1149.34 L107.23,1150.77 L110.97,1150.77Z" stroke-width="0.25" stroke-linejoin="round"/>
<path d="M182.66,1161.88 L184.87,1161.88 L184.87,1146.41 L183.22,1146.41 C182.78,1148.12 181.34,1149.16 178.93,1149.34 L178.93,1150.77 L182.66,1150.77Z" stroke-width="0.25" stroke-linejoin="round"/>
<path d="M258.67,1161.88 L260.87,1161.88 L260.87,1146.41 L259.21,1146.41 C258.77,1148.12 257.34,1149.16 254.93,1149.34 L254.93,1150.77 L258.67,1150.77Z" stroke-width="0.25" stroke-linejoin="round"/><text stroke="#000" stroke-width="0.25" stroke-linejoin="round" x="268.50" y="1161.88" font-size="22.0">0</text>
<path d="M335.97,1161.88 L338.17,1161.88 L338.17,1146.41 L336.51,1146.41 C336.07,1148.12 334.64,1149.16 332.23,1149.34 L332.23,1150.77 L335.97,1150.77Z" stroke-width="0.25" stroke-linejoin="round"/><text stroke="#000" stroke-width="0.25" stroke-linejoin="round" x="344.68 360.00" y="1161.88 1161.88" font-size="22.0">00</text>
<text stroke="#000" stroke-width="0.25" stroke-linejoin="round" x="96.91 112.72 127.31 133.34 145.50" y="870.67 870.67 870.67 870.67 870.67" font-size="22.0">CP.68</text>
<text stroke="#000" stroke-width="0.25" stroke-linejoin="round" transform="translate(324.07,845.35) scale(0.9210,1)" x="0" y="0" font-size="46.08">E</text>
<text stroke="#000" stroke-width="0.25" stroke-linejoin="round" x="166.38 180.45 203.26 209.51 223.88 239.40 248.59 270.73 279.80" y="1189.08 1189.08 1189.08 1189.08 1189.08 1189.08 1189.08 1189.08 1189.08" font-size="22.5">Ag(µg/ml)</text>
<g transform="translate(30.75,1038.00) rotate(-90)"><text stroke="#000" stroke-width="0.25" stroke-linejoin="round" x="-0.29 11.55 23.53 55.64" y="-0.12 -0.12 -0.12 -0.12" font-size="21.5">cpmx</text><path d="M84.85,-0.12 L87.00,-0.12 L87.00,-15.24 L85.39,-15.24 C84.96,-13.56 83.56,-12.55 81.20,-12.38 L81.20,-10.98 L84.85,-10.98Z" stroke-width="0.25" stroke-linejoin="round"/><text stroke="#000" stroke-width="0.25" stroke-linejoin="round" x="91.49" y="-0.12" font-size="21.5">0</text><text stroke="#000" stroke-width="0.25" stroke-linejoin="round" x="104.33 113.31" y="-7.62 -7.62" font-size="18.0">-3</text></g>
<line x1="452.00" y1="842.10" x2="453.10" y2="1124.90" stroke-width="2.4" stroke-linecap="butt"/>
<line x1="442.60" y1="1123.90" x2="453.10" y2="1123.90" stroke-width="2.2" stroke-linecap="butt"/>
<line x1="442.32" y1="1053.70" x2="452.82" y2="1053.70" stroke-width="2.2" stroke-linecap="butt"/>
<line x1="442.05" y1="983.50" x2="452.55" y2="983.50" stroke-width="2.2" stroke-linecap="butt"/>
<line x1="441.78" y1="913.30" x2="452.28" y2="913.30" stroke-width="2.2" stroke-linecap="butt"/>
<line x1="441.50" y1="843.10" x2="452.00" y2="843.10" stroke-width="2.2" stroke-linecap="butt"/>
<line x1="447.96" y1="1088.80" x2="452.96" y2="1088.80" stroke-width="2.2" stroke-linecap="butt"/>
<line x1="447.69" y1="1018.60" x2="452.69" y2="1018.60" stroke-width="2.2" stroke-linecap="butt"/>
<line x1="447.41" y1="948.40" x2="452.41" y2="948.40" stroke-width="2.2" stroke-linecap="butt"/>
<line x1="447.14" y1="878.20" x2="452.14" y2="878.20" stroke-width="2.2" stroke-linecap="butt"/>
<line x1="460.20" y1="1124.10" x2="715.10" y2="1122.80" stroke-width="2.4" stroke-linecap="butt"/>
<line x1="462.40" y1="1124.09" x2="462.40" y2="1133.59" stroke-width="2.2" stroke-linecap="butt"/>
<line x1="487.69" y1="1123.96" x2="487.69" y2="1127.96" stroke-width="2.2" stroke-linecap="butt"/>
<line x1="502.48" y1="1123.89" x2="502.48" y2="1127.89" stroke-width="2.2" stroke-linecap="butt"/>
<line x1="512.97" y1="1123.83" x2="512.97" y2="1127.83" stroke-width="2.2" stroke-linecap="butt"/>
<line x1="521.11" y1="1123.79" x2="521.11" y2="1127.79" stroke-width="2.2" stroke-linecap="butt"/>
<line x1="527.76" y1="1123.76" x2="527.76" y2="1127.76" stroke-width="2.2" stroke-linecap="butt"/>
<line x1="533.39" y1="1123.73" x2="533.39" y2="1127.73" stroke-width="2.2" stroke-linecap="butt"/>
<line x1="538.26" y1="1123.70" x2="538.26" y2="1127.70" stroke-width="2.2" stroke-linecap="butt"/>
<line x1="542.56" y1="1123.68" x2="542.56" y2="1127.68" stroke-width="2.2" stroke-linecap="butt"/>
<line x1="546.40" y1="1123.66" x2="546.40" y2="1133.16" stroke-width="2.2" stroke-linecap="butt"/>
<line x1="571.72" y1="1123.53" x2="571.72" y2="1127.53" stroke-width="2.2" stroke-linecap="butt"/>
<line x1="586.53" y1="1123.46" x2="586.53" y2="1127.46" stroke-width="2.2" stroke-linecap="butt"/>
<line x1="597.03" y1="1123.40" x2="597.03" y2="1127.40" stroke-width="2.2" stroke-linecap="butt"/>
<line x1="605.18" y1="1123.36" x2="605.18" y2="1127.36" stroke-width="2.2" stroke-linecap="butt"/>
<line x1="611.84" y1="1123.33" x2="611.84" y2="1127.33" stroke-width="2.2" stroke-linecap="butt"/>
<line x1="617.47" y1="1123.30" x2="617.47" y2="1127.30" stroke-width="2.2" stroke-linecap="butt"/>
<line x1="622.35" y1="1123.27" x2="622.35" y2="1127.27" stroke-width="2.2" stroke-linecap="butt"/>
<line x1="626.65" y1="1123.25" x2="626.65" y2="1127.25" stroke-width="2.2" stroke-linecap="butt"/>
<line x1="630.50" y1="1123.23" x2="630.50" y2="1132.73" stroke-width="2.2" stroke-linecap="butt"/>
<line x1="655.64" y1="1123.10" x2="655.64" y2="1127.10" stroke-width="2.2" stroke-linecap="butt"/>
<line x1="670.34" y1="1123.02" x2="670.34" y2="1127.02" stroke-width="2.2" stroke-linecap="butt"/>
<line x1="680.77" y1="1122.97" x2="680.77" y2="1126.97" stroke-width="2.2" stroke-linecap="butt"/>
<line x1="688.86" y1="1122.93" x2="688.86" y2="1126.93" stroke-width="2.2" stroke-linecap="butt"/>
<line x1="695.48" y1="1122.90" x2="695.48" y2="1126.90" stroke-width="2.2" stroke-linecap="butt"/>
<line x1="701.07" y1="1122.87" x2="701.07" y2="1126.87" stroke-width="2.2" stroke-linecap="butt"/>
<line x1="705.91" y1="1122.84" x2="705.91" y2="1126.84" stroke-width="2.2" stroke-linecap="butt"/>
<line x1="710.18" y1="1122.82" x2="710.18" y2="1126.82" stroke-width="2.2" stroke-linecap="butt"/>
<line x1="714.00" y1="1122.80" x2="714.00" y2="1132.30" stroke-width="2.2" stroke-linecap="butt"/>
<path d="M511.40,1116.70 L536.00,1109.90 L561.00,1098.60 L586.10,1087.80 L611.50,1054.50 L637.40,1008.80 L662.70,940.60 L688.30,891.10" fill="none" stroke-width="2.7" stroke-linejoin="round"/>
<path d="M511.40,1111.70 L536.00,1104.90 L561.00,1089.90 L586.10,1057.00 L611.30,1012.00 L637.40,957.70 L662.70,940.60 L688.30,964.80" fill="none" stroke-width="2.7" stroke-linejoin="round"/>
<rect x="505.25" y="1110.55" width="12.3" height="12.3" fill="#000" stroke="none"/>
<rect x="529.85" y="1103.75" width="12.3" height="12.3" fill="#000" stroke="none"/>
<rect x="554.85" y="1092.45" width="12.3" height="12.3" fill="#000" stroke="none"/>
<rect x="579.95" y="1081.65" width="12.3" height="12.3" fill="#000" stroke="none"/>
<rect x="605.35" y="1048.35" width="12.3" height="12.3" fill="#000" stroke="none"/>
<rect x="631.25" y="1002.65" width="12.3" height="12.3" fill="#000" stroke="none"/>
<rect x="656.55" y="934.45" width="12.3" height="12.3" fill="#000" stroke="none"/>
<rect x="682.15" y="884.95" width="12.3" height="12.3" fill="#000" stroke="none"/>
<rect x="506.30" y="1106.60" width="10.2" height="10.2" fill="#fff" stroke-width="2.3"/>
<rect x="530.90" y="1099.80" width="10.2" height="10.2" fill="#fff" stroke-width="2.3"/>
<rect x="555.90" y="1084.80" width="10.2" height="10.2" fill="#fff" stroke-width="2.3"/>
<rect x="581.00" y="1051.90" width="10.2" height="10.2" fill="#fff" stroke-width="2.3"/>
<rect x="606.20" y="1006.90" width="10.2" height="10.2" fill="#fff" stroke-width="2.3"/>
<rect x="632.30" y="952.60" width="10.2" height="10.2" fill="#fff" stroke-width="2.3"/>
<rect x="657.60" y="935.50" width="10.2" height="10.2" fill="#fff" stroke-width="2.3"/>
<rect x="683.20" y="959.70" width="10.2" height="10.2" fill="#fff" stroke-width="2.3"/>
<text stroke="#000" stroke-width="0.25" stroke-linejoin="round" x="410.12 424.90" y="850.48 850.48" font-size="22.0">40</text>
<text stroke="#000" stroke-width="0.25" stroke-linejoin="round" x="410.09 425.10" y="920.77 920.77" font-size="22.0">30</text>
<text stroke="#000" stroke-width="0.25" stroke-linejoin="round" x="409.82 425.10" y="990.48 990.48" font-size="22.0">20</text>
<path d="M416.06,1060.58 L418.26,1060.58 L418.26,1045.11 L416.61,1045.11 C416.17,1046.83 414.74,1047.86 412.32,1048.04 L412.32,1049.47 L416.06,1049.47Z" stroke-width="0.25" stroke-linejoin="round"/><text stroke="#000" stroke-width="0.25" stroke-linejoin="round" x="426.00" y="1060.58" font-size="22.0">0</text>
<text stroke="#000" stroke-width="0.25" stroke-linejoin="round" x="424.97" y="1131.08" font-size="22.0">0</text>
<text stroke="#000" stroke-width="0.25" stroke-linejoin="round" x="445.27 459.08" y="1158.08 1158.08" font-size="22.0">0.</text><path d="M473.38,1158.08 L475.57,1158.08 L475.57,1142.61 L473.92,1142.61 C473.48,1144.33 472.05,1145.36 469.63,1145.54 L469.63,1146.97 L473.38,1146.97Z" stroke-width="0.25" stroke-linejoin="round"/>
<path d="M547.07,1158.67 L549.26,1158.67 L549.26,1143.21 L547.62,1143.21 C547.18,1144.92 545.75,1145.96 543.33,1146.13 L543.33,1147.57 L547.07,1147.57Z" stroke-width="0.25" stroke-linejoin="round"/>
<path d="M623.47,1158.08 L625.66,1158.08 L625.66,1142.61 L624.01,1142.61 C623.58,1144.33 622.14,1145.36 619.73,1145.54 L619.73,1146.97 L623.47,1146.97Z" stroke-width="0.25" stroke-linejoin="round"/><text stroke="#000" stroke-width="0.25" stroke-linejoin="round" x="632.00" y="1158.08" font-size="22.0">0</text>
<path d="M700.07,1158.08 L702.26,1158.08 L702.26,1142.61 L700.62,1142.61 C700.18,1144.33 698.75,1145.36 696.33,1145.54 L696.33,1146.97 L700.07,1146.97Z" stroke-width="0.25" stroke-linejoin="round"/><text stroke="#000" stroke-width="0.25" stroke-linejoin="round" x="707.73 722.00" y="1158.08 1158.08" font-size="22.0">00</text>
<text stroke="#000" stroke-width="0.25" stroke-linejoin="round" x="461.21 477.21 492.00 498.23 510.58" y="869.98 869.98 869.98 869.98 869.98" font-size="22.0">CP.39</text>
<text stroke="#000" stroke-width="0.25" stroke-linejoin="round" transform="translate(689.54,844.05) scale(0.9521,1)" x="0" y="0" font-size="44.91">F</text>
<text stroke="#000" stroke-width="0.25" stroke-linejoin="round" x="531.38 545.56 568.53 574.82 589.28 604.90 614.16 636.45 645.57" y="1189.38 1189.38 1189.38 1189.38 1189.38 1189.38 1189.38 1189.38 1189.38" font-size="22.5">Ag(µg/ml)</text>
<g transform="translate(394.70,1033.50) rotate(-90)"><text stroke="#000" stroke-width="0.25" stroke-linejoin="round" x="-0.29 11.55 23.53 55.64" y="-0.12 -0.12 -0.12 -0.12" font-size="21.5">cpmx</text><path d="M84.85,-0.12 L87.00,-0.12 L87.00,-15.24 L85.39,-15.24 C84.96,-13.56 83.56,-12.55 81.20,-12.38 L81.20,-10.98 L84.85,-10.98Z" stroke-width="0.25" stroke-linejoin="round"/><text stroke="#000" stroke-width="0.25" stroke-linejoin="round" x="91.49" y="-0.12" font-size="21.5">0</text><text stroke="#000" stroke-width="0.25" stroke-linejoin="round" x="104.33 113.31" y="-7.62 -7.62" font-size="18.0">-3</text></g>
</g></g></svg>
</body></html>
